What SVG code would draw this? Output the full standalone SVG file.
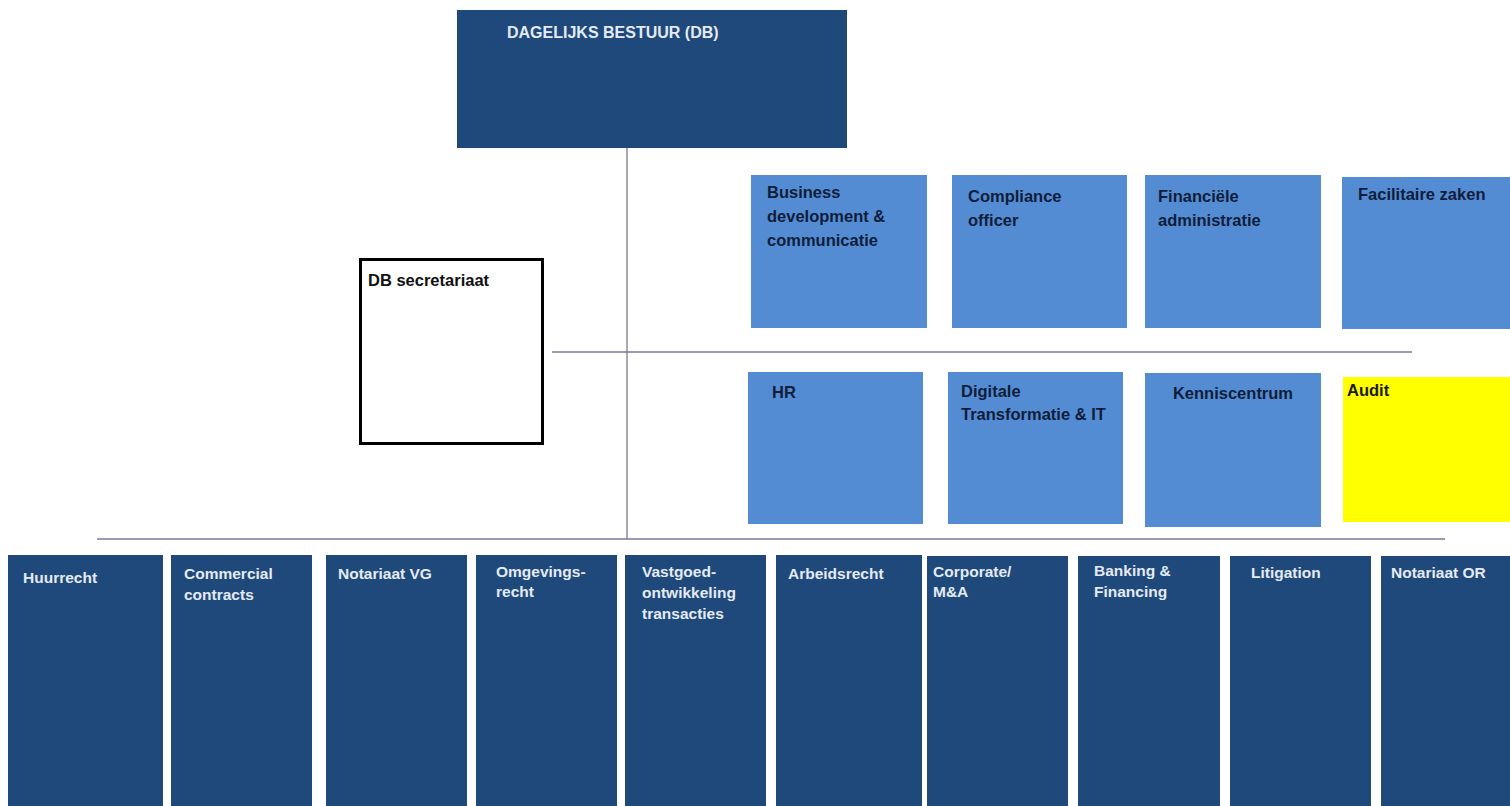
<svg xmlns="http://www.w3.org/2000/svg" width="1510" height="806" viewBox="0 0 1510 806">
<style>
.dark{fill:#1f487b}
.light{fill:#548cd3}
.tw{font-family:"Liberation Sans",Arial,sans-serif;font-weight:bold;font-size:15.5px;fill:#e4ebf3}
.tn{font-family:"Liberation Sans",Arial,sans-serif;font-weight:bold;font-size:16.5px;fill:#0f1d3a}
.tb{font-family:"Liberation Sans",Arial,sans-serif;font-weight:bold;font-size:16.5px;fill:#111}
.ln{stroke:#7d7896;stroke-width:1.3;fill:none}
</style>
<rect width="1510" height="806" fill="#fff"/>
<g id="connectors">
<line class="ln" x1="627" y1="148" x2="627" y2="539"/>
<line class="ln" x1="552" y1="352" x2="1412" y2="352"/>
<line class="ln" x1="97" y1="539" x2="1445" y2="539"/>
</g>
<g id="db"><rect class="dark" x="457" y="10" width="390" height="138"/><text class="tw" x="507" y="38" style="font-size:16px">DAGELIJKS BESTUUR (DB)</text></g>
<g id="db-secretariaat"><rect x="360.5" y="259.5" width="182" height="184" fill="#fff" stroke="#000" stroke-width="3"/><text class="tb" x="368" y="286">DB secretariaat</text></g>
<g id="business"><rect class="light" x="751" y="175" width="176" height="153"/><text class="tn" x="767" y="198">Business</text><text class="tn" x="767" y="222">development &amp;</text><text class="tn" x="767" y="246">communicatie</text></g>
<g id="compliance"><rect class="light" x="952" y="175" width="175" height="153"/><text class="tn" x="968" y="202">Compliance</text><text class="tn" x="968" y="226">officer</text></g>
<g id="financiele"><rect class="light" x="1145" y="175" width="176" height="153"/><text class="tn" x="1158" y="202">Financiële</text><text class="tn" x="1158" y="226">administratie</text></g>
<g id="facilitaire"><rect class="light" x="1342" y="177" width="168" height="152"/><text class="tn" x="1358" y="200">Facilitaire zaken</text></g>
<g id="hr"><rect class="light" x="748" y="372" width="175" height="152"/><text class="tn" x="772" y="398">HR</text></g>
<g id="digitale"><rect class="light" x="948" y="372" width="175" height="152"/><text class="tn" x="961" y="397">Digitale</text><text class="tn" x="961" y="420">Transformatie &amp; IT</text></g>
<g id="kenniscentrum"><rect class="light" x="1145" y="373" width="176" height="154"/><text class="tn" x="1233" y="399" text-anchor="middle">Kenniscentrum</text></g>
<g id="audit"><rect x="1343" y="377" width="167" height="145" fill="#ffff00"/><text class="tn" x="1347" y="396" style="fill:#1a1a1a">Audit</text></g>
<g id="huurrecht"><rect class="dark" x="8" y="555" width="155" height="251"/><text class="tw" x="23" y="583">Huurrecht</text></g>
<g id="commercial"><rect class="dark" x="171" y="555" width="141" height="251"/><text class="tw" x="184" y="579">Commercial</text><text class="tw" x="184" y="600">contracts</text></g>
<g id="notariaat-vg"><rect class="dark" x="326" y="555" width="141" height="251"/><text class="tw" x="338" y="579">Notariaat VG</text></g>
<g id="omgevingsrecht"><rect class="dark" x="476" y="555" width="141" height="251"/><text class="tw" x="496" y="577">Omgevings-</text><text class="tw" x="496" y="597">recht</text></g>
<g id="vastgoed"><rect class="dark" x="625" y="555" width="141" height="251"/><text class="tw" x="642" y="577">Vastgoed-</text><text class="tw" x="642" y="598">ontwikkeling</text><text class="tw" x="642" y="619">transacties</text></g>
<g id="arbeidsrecht"><rect class="dark" x="776" y="555" width="146" height="251"/><text class="tw" x="788" y="579">Arbeidsrecht</text></g>
<g id="corporate"><rect class="dark" x="927" y="556" width="141" height="250"/><text class="tw" x="933" y="577">Corporate/</text><text class="tw" x="933" y="597">M&amp;A</text></g>
<g id="banking"><rect class="dark" x="1078" y="556" width="142" height="250"/><text class="tw" x="1094" y="576">Banking &amp;</text><text class="tw" x="1094" y="597">Financing</text></g>
<g id="litigation"><rect class="dark" x="1230" y="556" width="141" height="250"/><text class="tw" x="1251" y="578">Litigation</text></g>
<g id="notariaat-or"><rect class="dark" x="1381" y="556" width="129" height="250"/><text class="tw" x="1391" y="578">Notariaat OR</text></g>
</svg>
